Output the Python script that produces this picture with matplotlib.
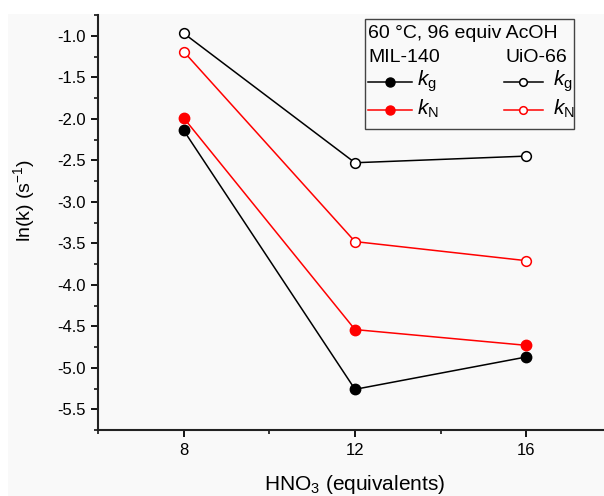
import matplotlib
matplotlib.use("Agg")
import matplotlib.pyplot as plt
from matplotlib.lines import Line2D
from matplotlib.patches import Rectangle
from matplotlib.ticker import MultipleLocator

plt.rcParams['font.family'] = ['Liberation Sans', 'DejaVu Sans']
plt.rcParams['mathtext.fontset'] = 'custom'
plt.rcParams['mathtext.rm'] = 'Liberation Sans'
plt.rcParams['mathtext.it'] = 'Liberation Sans:italic'
plt.rcParams['mathtext.bf'] = 'Liberation Sans:bold'

hno3 = [8, 12, 16]
mil_kg = [-2.14, -5.26, -4.87]
mil_kn = [-1.99, -4.54, -4.73]
uio_kg = [-0.97, -2.53, -2.45]
uio_kn = [-1.19, -3.48, -3.71]

W, H = 604, 496
fig = plt.figure(figsize=(W/100, H/100), dpi=100, facecolor='white')
fig.patches.append(Rectangle((8/W, 0), 1, 1 - 14/H, transform=fig.transFigure,
                             facecolor='#f9f9f9', edgecolor='none', zorder=-10))

# axes: x 6..18 maps to px 98..612, y -5.75..-0.75 maps to px 430..15
x0, x1 = 98, 612
yt, yb = 15, 430
ax = fig.add_axes([x0/W, 1 - yb/H, (x1-x0)/W, (yb-yt)/H])
ax.set_facecolor('none')
ax.set_xlim(6, 18)
ax.set_ylim(-5.75, -0.75)

lw = 1.1
ms = 7.5
ax.plot(hno3, mil_kg, '-o', color='black', lw=lw, ms=ms, mfc='black', mec='black', zorder=3)
ax.plot(hno3, mil_kn, '-o', color='red', lw=lw, ms=ms, mfc='red', mec='red', zorder=3)
ax.plot(hno3, uio_kg, '-o', color='black', lw=lw, ms=ms-0.5, mfc='white', mec='black', mew=1.1, zorder=3)
ax.plot(hno3, uio_kn, '-o', color='red', lw=lw, ms=ms-0.5, mfc='white', mec='red', mew=1.1, zorder=3)

for s in ['top', 'right']:
    ax.spines[s].set_visible(False)
for s in ['left', 'bottom']:
    ax.spines[s].set_linewidth(1.5)
    ax.spines[s].set_color('#222222')

ax.set_xticks([8, 12, 16])
ax.xaxis.set_minor_locator(MultipleLocator(2))
ax.set_yticks([-5.5, -5.0, -4.5, -4.0, -3.5, -3.0, -2.5, -2.0, -1.5, -1.0])
ax.set_yticklabels(['-5.5', '-5.0', '-4.5', '-4.0', '-3.5', '-3.0', '-2.5', '-2.0', '-1.5', '-1.0'])
ax.yaxis.set_minor_locator(MultipleLocator(0.25))
ax.tick_params(which='major', direction='out', length=5, width=1.3, labelsize=12)
ax.tick_params(axis='x', which='major', pad=4.5)
ax.tick_params(axis='y', which='major', pad=4)
ax.tick_params(which='minor', direction='out', length=3, width=1.1)

ax.set_xlabel('HNO$_3$ (equivalents)', fontsize=15)
ax.xaxis.set_label_coords(0.5, -0.103)
ax.set_ylabel('ln(k) (s$^{-1}$)', fontsize=14)
ax.yaxis.set_label_coords(-0.119, 0.554)

# legend box drawn in figure pixel coordinates
def fx(px):
    return px / W
def fy(py):
    return 1 - py / H

fig.patches.append(Rectangle((fx(365), fy(129)), fx(574) - fx(365), fy(19) - fy(129),
                             transform=fig.transFigure, facecolor='none',
                             edgecolor='#444444', lw=1.0, zorder=5))
fs = 14
fig.text(fx(368), fy(33), '60 °C, 96 equiv AcOH', fontsize=fs, va='center', ha='left')
fig.text(fx(368), fy(58), 'MIL-140', fontsize=fs, va='center', ha='left')
fig.text(fx(567), fy(58), 'UiO-66', fontsize=fs, va='center', ha='right')

rows = [(82, 'black', r'$k_\mathrm{g}$'), (110, 'red', r'$k_\mathrm{N}$')]
for py, c, lab in rows:
    fig.add_artist(Line2D([fx(368), fx(412)], [fy(py), fy(py)], color=c, lw=lw,
                          transform=fig.transFigure))
    fig.add_artist(Line2D([fx(390)], [fy(py)], color=c, marker='o', ms=6.5,
                          mfc=c, mec=c, ls='none', transform=fig.transFigure))
    fig.text(fx(417), fy(py - 1), lab, fontsize=fs + 1, va='center', ha='left')
    fig.add_artist(Line2D([fx(504), fx(543)], [fy(py), fy(py)], color=c, lw=lw,
                          transform=fig.transFigure))
    fig.add_artist(Line2D([fx(523)], [fy(py)], color=c, marker='o', ms=5.5,
                          mfc='white', mec=c, mew=1.1, ls='none', transform=fig.transFigure))
    fig.text(fx(553), fy(py - 1), lab, fontsize=fs + 1, va='center', ha='left')

fig.savefig('out.png', dpi=100, facecolor='white')
